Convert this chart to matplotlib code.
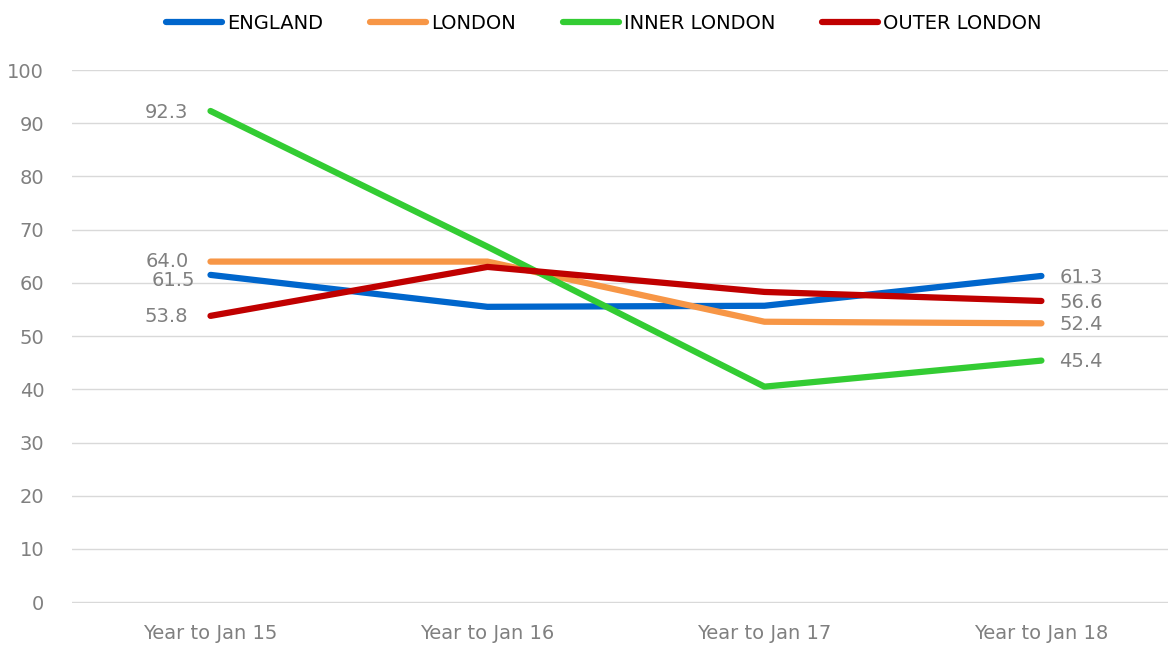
import matplotlib.pyplot as plt

periods = ["Year to Jan 15", "Year to Jan 16", "Year to Jan 17", "Year to Jan 18"]
england = [61.5, 55.5, 55.7, 61.3]
london = [64.0, 64.0, 52.7, 52.4]
inner_london = [92.3, 66.8, 40.5, 45.4]
outer_london = [53.8, 63.0, 58.3, 56.6]

series = [
    ("ENGLAND", england, "#0066CC"),
    ("LONDON", london, "#F79646"),
    ("INNER LONDON", inner_london, "#33CC33"),
    ("OUTER LONDON", outer_london, "#C00000"),
]

# label nudges (pixels) for first / last points
first_dx = {"ENGLAND": -15, "LONDON": -22, "INNER LONDON": -22, "OUTER LONDON": -22}
first_dy = {"ENGLAND": -6, "LONDON": 0, "INNER LONDON": -2, "OUTER LONDON": -1}
last_dy = {"ENGLAND": -2, "LONDON": -1, "INNER LONDON": -1, "OUTER LONDON": -2}

plt.rcParams["font.family"] = ["DejaVu Sans"]

fig = plt.figure(figsize=(11.68, 6.46), dpi=100)
ax = fig.add_axes([72 / 1168, 1 - 603 / 646, 1 - 72 / 1168, 533 / 646])

x = list(range(len(periods)))
for name, vals, col in series:
    ax.plot(x, vals, color=col, lw=4.5, solid_capstyle="round", label=name)
    ax.annotate(f"{vals[0]:.1f}", (x[0], vals[0]), xytext=(first_dx[name], first_dy[name]),
                textcoords="offset pixels", ha="right", va="center",
                fontsize=14, color="#808080")
    ax.annotate(f"{vals[-1]:.1f}", (x[-1], vals[-1]), xytext=(18, last_dy[name]),
                textcoords="offset pixels", ha="left", va="center",
                fontsize=14, color="#808080")

ax.set_ylim(-0.15, 100)
ax.set_yticks(range(0, 101, 10))
ax.set_xlim(-0.5, 3.457)
ax.set_xticks(x)
ax.set_xticklabels(periods)
ax.tick_params(axis="both", length=0, labelsize=14, labelcolor="#808080")
ax.tick_params(axis="y", pad=20)
ax.tick_params(axis="x", pad=15)
ax.grid(axis="y", color="#D9D9D9", lw=1)
ax.set_axisbelow(True)
for s in ax.spines.values():
    s.set_visible(False)

fig.legend(loc="upper center", bbox_to_anchor=(0.517, 1.005), ncol=4, frameon=False,
           fontsize=14, handlelength=2.9, columnspacing=2.4, handletextpad=0.25)

fig.savefig("out.png", dpi=100)
